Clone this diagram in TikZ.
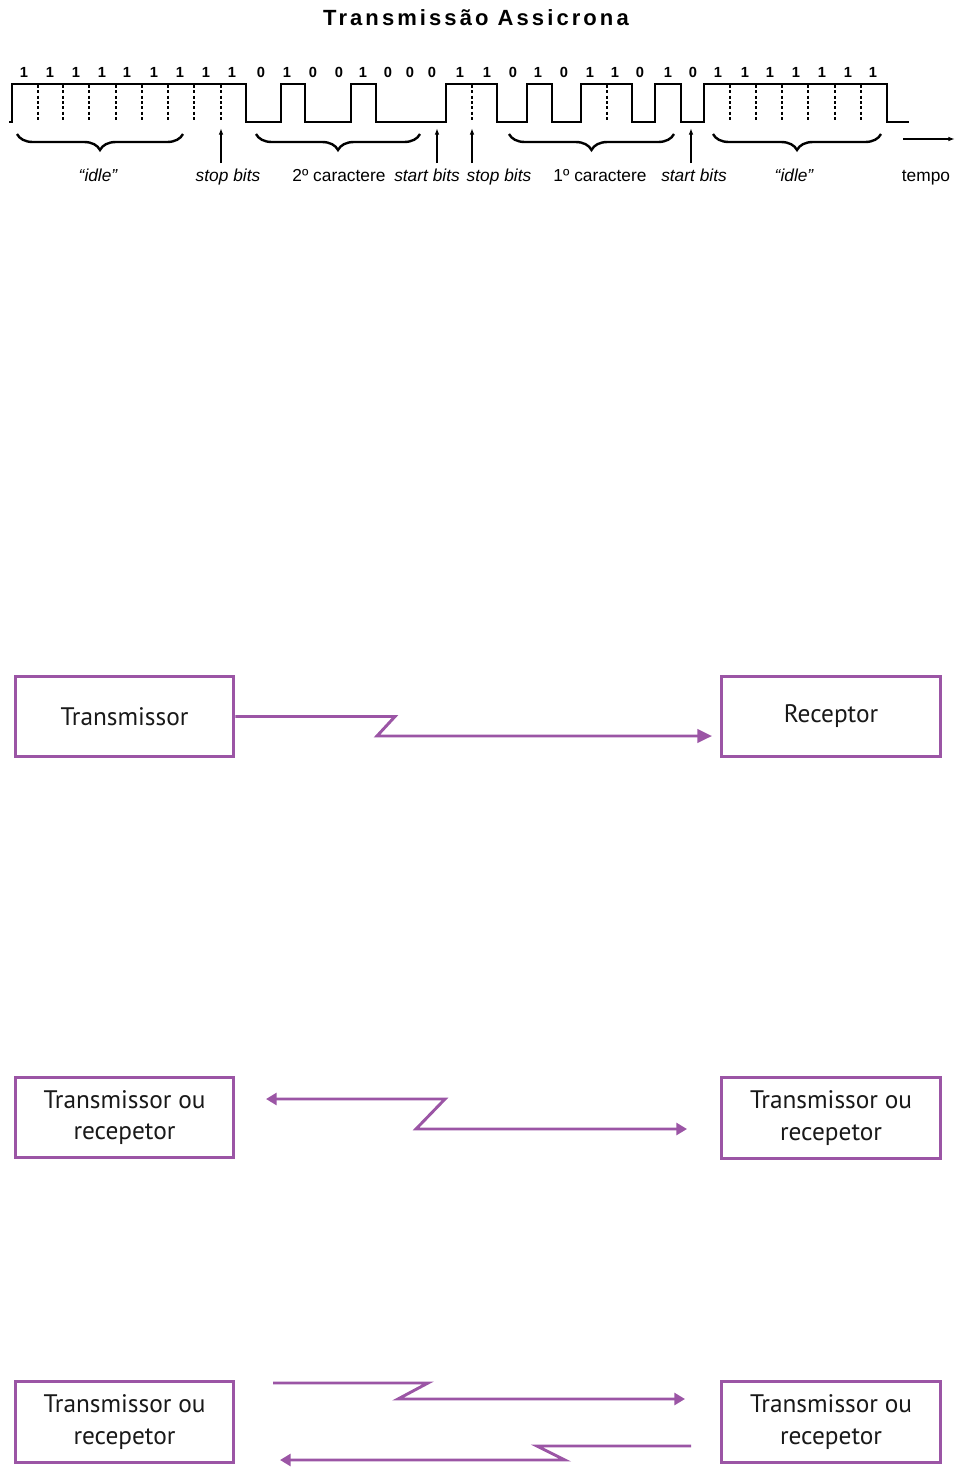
\documentclass[tikz,border=0pt]{standalone}
\usepackage{fontspec}
\setmainfont{Liberation Sans}
\newfontfamily\boxfont{PT Sans}
\newfontfamily\titlefont[LetterSpace=14]{Liberation Sans}
\usetikzlibrary{arrows.meta,decorations.pathreplacing}
\definecolor{purp}{RGB}{155,85,165}
\begin{document}
\begin{tikzpicture}[x=0.75pt,y=-0.75pt,
  wave/.style={line width=1.1pt,black},
  dashln/.style={line width=1pt,dash pattern=on 2.2pt off 1.8pt},
  digit/.style={font=\bfseries\fontsize{11}{13}\selectfont,inner sep=0pt,anchor=base},
  lab/.style={font=\fontsize{13}{15}\selectfont,inner sep=0pt,anchor=base},
  bracedeco/.style={line width=1.8pt,decorate,decoration={brace,mirror,amplitude=12pt}},
  uparrow/.style={line width=1pt,-{Latex[length=5pt,width=3.5pt]}},
  box/.style={draw=purp,line width=2.2pt,rectangle,minimum width=164pt,minimum height=60.5pt,inner sep=0pt,align=center,font=\boxfont\fontsize{19}{23.5}\selectfont,text=black!90},
  parrow/.style={draw=purp,line width=2.2pt,-{Triangle[length=11pt,width=10pt]}},
  parrowb/.style={draw=purp,line width=2.2pt,-{Triangle[length=8pt,width=9pt]}}
]
\useasboundingbox (0,0) rectangle (961,1478);
\fill[white] (0,0) rectangle (961,1478);

% title
\node[font=\titlefont\bfseries\fontsize{16.5}{19}\selectfont,inner sep=0pt] (title) at (476,18) {Transmissão Assicrona};

% waveform
\draw[wave] (9,122) -- (12,122) -- (12,84) -- (246,84) -- (246,122) -- (281,122) -- (281,84) -- (305,84) -- (305,122)
  -- (351,122) -- (351,84) -- (376,84) -- (376,122) -- (446,122) -- (446,84) -- (497,84) -- (497,122)
  -- (527,122) -- (527,84) -- (552,84) -- (552,122) -- (581,122) -- (581,84) -- (632,84) -- (632,122)
  -- (655,122) -- (655,84) -- (681,84) -- (681,122) -- (704,122) -- (704,84) -- (887,84) -- (887,122) -- (909,122);
\foreach \x in {38,63,89,116,142,168,194,221,472,607,730,756,782,808,835,861}
  \draw[dashln] (\x,85) -- (\x,122);

% bit labels
\foreach \x/\b [count=\i] in {24/1,50/1,76/1,102/1,127/1,154/1,180/1,206/1,232/1,261/0,287/1,313/0,339/0,363/1,388/0,410/0,432/0,460/1,487/1,513/0,538/1,564/0,590/1,615/1,640/0,668/1,693/0,718/1,745/1,770/1,796/1,822/1,848/1,873/1}
  \node[digit] (bit\i) at (\x,77.5) {\b};

% braces
\draw[bracedeco] (17,134) -- (183,134);
\draw[bracedeco] (256,134) -- (420,134);
\draw[bracedeco] (509,134) -- (674,134);
\draw[bracedeco] (713,134) -- (881,134);

% small arrows
\draw[uparrow] (221,163) -- (221,128);
\draw[uparrow] (437,163) -- (437,128);
\draw[uparrow] (472,163) -- (472,128);
\draw[uparrow] (691,163) -- (691,128);
\draw[uparrow] (903,139) -- (955,139);

% labels
\node[lab] (l1) at (98,181) {\itshape “idle”};
\node[lab] (l2) at (228,181) {\itshape stop bits};
\node[lab] (l3) at (339,181) {2º caractere};
\node[lab] (l4) at (427,181) {\itshape start bits};
\node[lab] (l5) at (499,181) {\itshape stop bits};
\node[lab] (l6) at (600,181) {1º caractere};
\node[lab] (l7) at (694,181) {\itshape start bits};
\node[lab] (l8) at (794,181) {\itshape “idle”};
\node[lab] (l9) at (926,181) {tempo};

% simplex
\node[box] (tx) at (124.5,716.5) {Transmissor};
\node[box] (rx) at (831,716.5) {Receptor};
\coordinate (a1end) at (712,736);
\draw[parrow] (tx.east) -- (395,716.5) -- (377,736) -- (a1end);

% half duplex
\node[box] (h1) at (124.5,1117.5) {Transmissor ou\\recepetor};
\node[box] (h2) at (831,1118) {Transmissor ou\\recepetor};
\coordinate (a2l) at (266,1099);
\coordinate (a2r) at (687,1129);
\draw[parrowb,{Triangle[length=8pt,width=9pt]}-{Triangle[length=8pt,width=9pt]}] (a2l) -- (445,1099) -- (416,1129) -- (a2r);

% full duplex
\node[box] (f1) at (124.5,1422) {Transmissor ou\\recepetor};
\node[box] (f2) at (831,1422) {Transmissor ou\\recepetor};
\coordinate (a3s) at (273,1383);
\coordinate (a3e) at (685,1399);
\draw[parrowb] (a3s) -- (428,1383) -- (398,1399) -- (a3e);
\coordinate (a4s) at (691,1446);
\coordinate (a4e) at (280,1460);
\draw[parrowb] (a4s) -- (537,1446) -- (565,1460) -- (a4e);
\end{tikzpicture}
\end{document}
